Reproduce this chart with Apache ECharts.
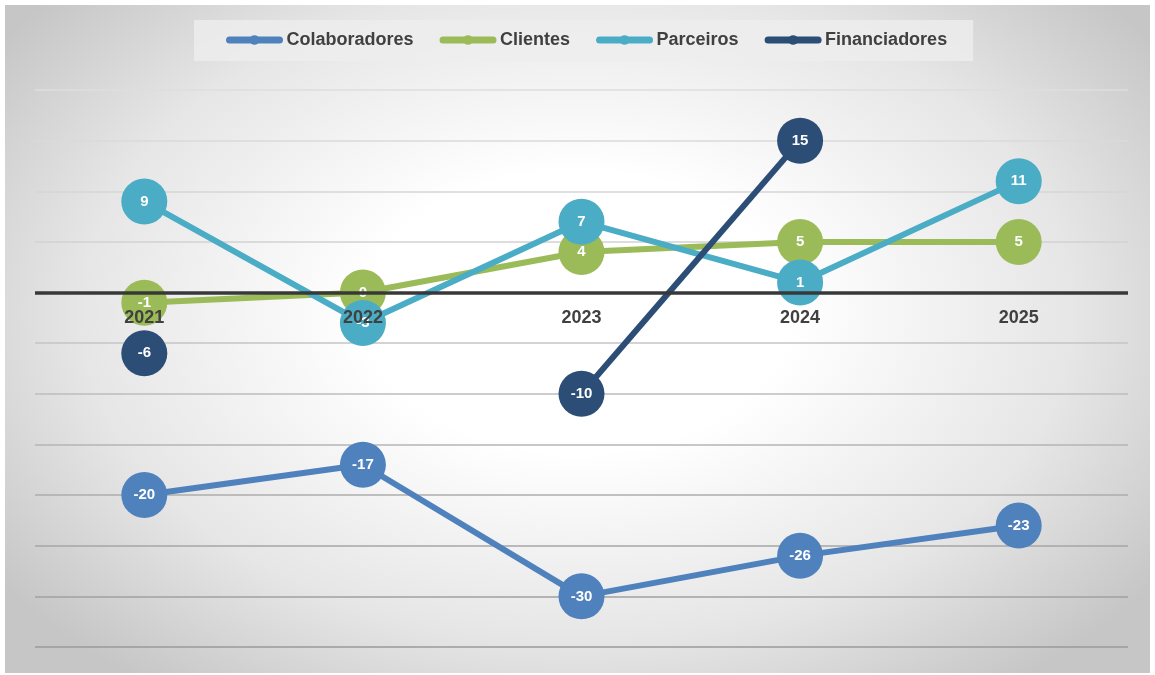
<!DOCTYPE html>
<html>
<head>
<meta charset="utf-8">
<script src="https://cdn.jsdelivr.net/npm/echarts@6/dist/echarts.min.js"></script>
<style>
  html, body { margin: 0; padding: 0; background: #fff; }
  #frame {
    position: absolute; left: 5px; top: 5px; width: 1145px; height: 668px;
    background: radial-gradient(ellipse 62% 70% at 50% 46%, #ffffff 30%, #e6e6e6 70%, #c6c6c6 100%);
  }
  #main { width: 1145px; height: 668px; }
</style>
</head>
<body>
<div id="frame"><div id="main"></div></div>
<script type="text/javascript">
// dados do grafico
var anos = ['2021', '2022', '2023', '2024', '2025'];
var colaboradores = [-20, -17, -30, -26, -23];
var clientes = [-1, 0, 4, 5, 5];
var parceiros = [9, -3, 7, 1, 11];
var financiadores = [-6, null, -10, 15, null];

var nomes = ['Colaboradores', 'Clientes', 'Parceiros', 'Financiadores'];
var cores = ['#4f81bd', '#9bbb59', '#4bacc6', '#2c4d75'];
var fonte = '"Liberation Sans", Arial, sans-serif';

// cores das linhas de grade, de baixo (-35) para cima (20)
var corGrade = ['#9a9a9a', '#a0a0a0', '#a6a6a6', '#acacac', '#b4b4b4', '#bcbcbc', '#c4c4c4',
                'rgba(0,0,0,0)', '#d2d2d2', '#d6d6d6', '#dadada', '#dedede'];

var myChart = echarts.init(document.getElementById('main'));

function serie(i, dados) {
    return {
        name: nomes[i],
        type: 'line',
        data: dados,
        symbol: 'circle',
        symbolSize: 46,
        connectNulls: false,
        lineStyle: { width: 6, color: cores[i] },
        itemStyle: { color: cores[i] },
        label: {
            show: true,
            position: 'inside',
            color: '#fff',
            fontFamily: fonte,
            fontWeight: 'bold',
            fontSize: 15
        },
        emphasis: { disabled: true }
    };
}

var series = [
    serie(0, colaboradores),
    serie(1, clientes),
    serie(2, parceiros),
    serie(3, financiadores)
];
// linha do zero, por baixo das series
series[0].markLine = {
    silent: true,
    symbol: 'none',
    label: { show: false },
    lineStyle: { color: '#383838', width: 3.5, type: 'solid' },
    data: [{ yAxis: 0 }]
};

var option = {
    animation: false,
    textStyle: { fontFamily: fonte },
    legend: {
        top: 15,
        left: 189,
        backgroundColor: 'rgba(238,238,238,0.8)',
        padding: [11, 26, 12, 32],
        itemGap: 26,
        itemWidth: 50,
        itemHeight: 12,
        data: nomes,
        lineStyle: { width: 7, cap: 'round' },
        textStyle: {
            fontFamily: fonte,
            fontWeight: 'bold',
            fontSize: 18,
            color: '#404040',
            padding: [0, 0, 0, 2]
        }
    },
    grid: [
        { left: 30, right: 22, top: 85, bottom: 26 },
        // grade auxiliar que termina no zero, so para os rotulos dos anos
        { left: 30, right: 22, top: 85, bottom: 381 }
    ],
    xAxis: [
        {
            type: 'category',
            data: anos,
            gridIndex: 0,
            axisLine: { show: false },
            axisTick: { show: false },
            axisLabel: { show: false }
        },
        {
            type: 'category',
            data: anos,
            gridIndex: 1,
            z: 10,
            axisLine: { show: false },
            axisTick: { show: false },
            axisLabel: {
                margin: 17,
                fontFamily: fonte,
                fontWeight: 'bold',
                fontSize: 18,
                color: '#404040'
            }
        }
    ],
    yAxis: [
        {
            type: 'value',
            gridIndex: 0,
            min: -35,
            max: 20,
            interval: 5,
            axisLabel: { show: false },
            axisLine: { show: false },
            axisTick: { show: false },
            splitLine: { show: true, lineStyle: { color: corGrade, width: 1.5 } }
        },
        {
            type: 'value',
            gridIndex: 1,
            show: false,
            splitLine: { show: false }
        }
    ],
    series: series
};

myChart.setOption(option);
</script>
</body>
</html>
